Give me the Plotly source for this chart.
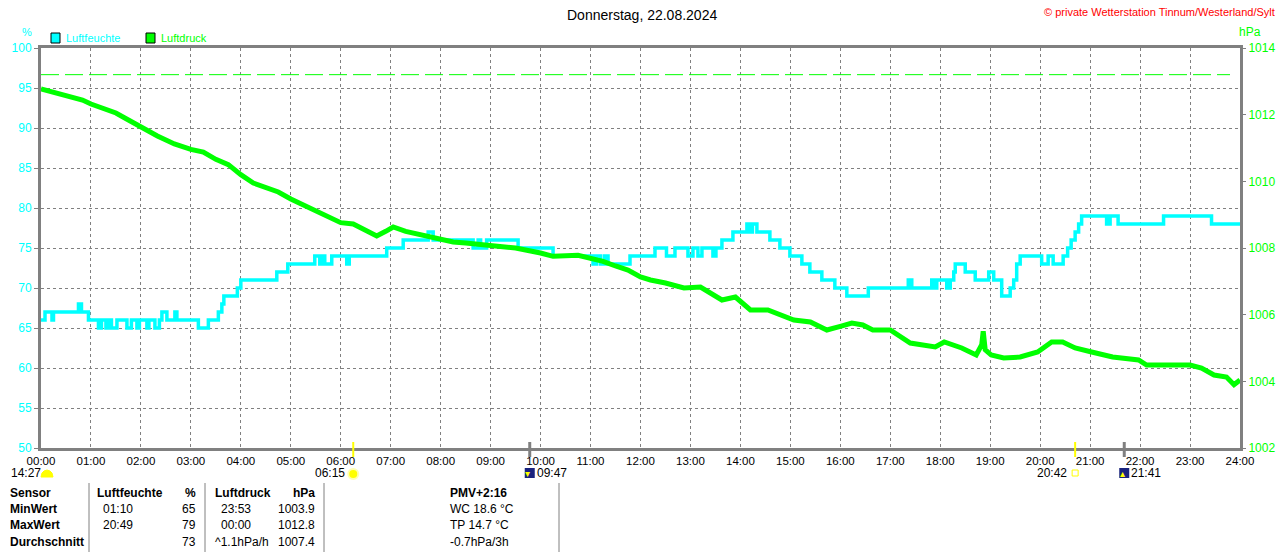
import plotly.graph_objects as go

# ---------------- data ----------------
hour_ticks = list(range(0, 25))
hour_labels = [f"{h:02d}:00" for h in hour_ticks]

hum_t = [0.00, 0.08, 0.22, 0.25, 0.75, 0.81, 0.95, 1.15, 1.21, 1.30, 1.35, 1.41, 1.52, 1.72,
         1.81, 1.92, 1.97, 2.12, 2.16, 2.28, 2.37, 2.42, 2.52, 2.68, 2.72, 3.15, 3.35, 3.55,
         3.62, 3.66, 3.93, 4.00, 4.72, 4.94, 5.48, 5.58, 5.62, 5.68, 5.82, 6.12, 6.17, 6.92,
         7.25, 7.75, 7.85, 8.65, 8.75, 8.80, 8.92, 9.55, 10.25, 11.05, 11.12, 11.20, 11.28,
         11.35, 11.79, 12.29, 12.52, 12.69, 12.95, 13.05, 13.15, 13.23, 13.45, 13.51, 13.63,
         13.85, 14.13, 14.20, 14.24, 14.33, 14.59, 14.79, 14.99, 15.23, 15.39, 15.63, 15.89,
         16.13, 16.56, 17.36, 17.43, 17.83, 17.90, 17.93, 18.13, 18.20, 18.27, 18.30, 18.50,
         18.70, 18.97, 19.07, 19.23, 19.40, 19.47, 19.53, 19.60, 20.03, 20.16, 20.26, 20.46,
         20.55, 20.62, 20.70, 20.77, 20.83, 21.33, 21.40, 21.56, 22.47, 23.43, 24.00]
hum_v = [66, 67, 66, 67, 68, 67, 66, 65, 66, 65, 66, 65, 66, 65,
         66, 65, 66, 65, 66, 65, 66, 67, 66, 67, 66, 65, 66, 67,
         68, 69, 70, 71, 72, 73, 74, 73, 74, 73, 74, 73, 74, 75,
         76, 77, 76, 75, 76, 75, 76, 75, 74, 73, 74, 73, 74,
         73, 74, 75, 74, 75, 74, 75, 74, 75, 74, 75, 76,
         77, 78, 77, 78, 77, 76, 75, 74, 73, 72, 71, 70,
         69, 70, 71, 70, 71, 70, 71, 70, 71, 72, 73, 72,
         71, 72, 71, 69, 70, 71, 73, 74, 73, 74, 73, 74,
         75, 76, 77, 78, 79, 78, 79, 78, 79, 78, 78]

pres_t = [0.0, 0.25, 0.5, 0.83, 1.0, 1.25, 1.5, 1.75, 2.0, 2.33, 2.67, 3.0, 3.25, 3.5, 3.75,
          4.0, 4.25, 4.5, 4.75, 5.0, 5.25, 5.5, 5.75, 6.0, 6.25, 6.5, 6.72, 6.9, 7.05, 7.3,
          7.6, 8.0, 8.25, 8.5, 9.0, 9.5, 10.0, 10.25, 10.75, 11.0, 11.25, 11.5, 11.75, 12.0,
          12.2, 12.5, 12.87, 13.2, 13.63, 13.9, 14.2, 14.55, 14.9, 15.07, 15.4, 15.73, 16.0,
          16.23, 16.45, 16.65, 17.0, 17.4, 17.9, 18.08, 18.43, 18.72, 18.83, 18.86, 18.9,
          19.02, 19.27, 19.6, 19.95, 20.23, 20.45, 20.7, 21.03, 21.45, 21.97, 22.13, 22.5,
          23.0, 23.23, 23.48, 23.73, 23.88, 24.0]
pres_v = [1012.77, 1012.68, 1012.56, 1012.44, 1012.32, 1012.2, 1012.05, 1011.84, 1011.63,
          1011.36, 1011.12, 1010.96, 1010.88, 1010.66, 1010.5, 1010.2, 1009.95, 1009.8,
          1009.68, 1009.47, 1009.3, 1009.14, 1008.95, 1008.76, 1008.72, 1008.55, 1008.36,
          1008.5, 1008.63, 1008.5, 1008.4, 1008.28, 1008.18, 1008.15, 1008.09, 1008.0,
          1007.85, 1007.75, 1007.78, 1007.7, 1007.6, 1007.46, 1007.34, 1007.13, 1007.04,
          1006.95, 1006.8, 1006.83, 1006.44, 1006.53, 1006.14, 1006.14, 1005.93, 1005.84,
          1005.78, 1005.54, 1005.65, 1005.75, 1005.69, 1005.54, 1005.54, 1005.15, 1005.03,
          1005.18, 1005.0, 1004.79, 1005.1, 1005.5, 1004.95, 1004.79, 1004.7, 1004.73,
          1004.88, 1005.18, 1005.18, 1005.0, 1004.88, 1004.73, 1004.64, 1004.49, 1004.49,
          1004.49, 1004.4, 1004.19, 1004.13, 1003.9, 1004.04]

ref_line_x = [0.0, 23.8]
ref_line_v = [1013.2, 1013.2]

# astronomical events (hours, label, kind)
event_t = [6.25, 9.783, 20.7, 21.683]
event_lbl = ["06:15", "09:47", "20:42", "21:41"]
event_kind = ["sunrise", "moon", "sunset", "moon"]

table_rows = [
    ["Sensor", "Luftfeuchte", "%", "Luftdruck", "hPa", "PMV+2:16"],
    ["MinWert", "01:10", "65", "23:53", "1003.9", "WC 18.6 °C"],
    ["MaxWert", "20:49", "79", "00:00", "1012.8", "TP 14.7 °C"],
    ["Durchschnitt", "", "73", "^1.1hPa/h", "1007.4", "-0.7hPa/3h"],
]

# ---------------- styles ----------------
CYAN = "#00ffff"
GREEN = "#00ff00"
GREY = "#808080"
YELLOW = "#ffff00"
FONT = "Liberation Sans, Arial, sans-serif"

W, H = 1280, 552
L, R, T, B = 41, 40, 48, 104
PW, PH = W - L - R, H - T - B


def px_x(px):
    return (px - L) / PW


def px_y(py):
    return (H - B - py) / PH


fig = go.Figure()

fig.add_trace(go.Scatter(x=ref_line_x, y=ref_line_v, yaxis="y2", mode="lines",
                         line=dict(color=GREEN, width=1, dash="18px,6px"),
                         hoverinfo="skip", showlegend=False))
fig.add_trace(go.Scatter(x=hum_t, y=hum_v, mode="lines", line_shape="hv",
                         line=dict(color=CYAN, width=3.5), name="Luftfeuchte",
                         showlegend=False))
fig.add_trace(go.Scatter(x=pres_t, y=pres_v, yaxis="y2", mode="lines",
                         line=dict(color=GREEN, width=5), name="Luftdruck",
                         showlegend=False))

shapes = []
annotations = []

# event markers on the time axis
for t, lbl, kind in zip(event_t, event_lbl, event_kind):
    is_sun = kind != "moon"
    shapes.append(dict(type="line", xref="x", yref="paper", x0=t, x1=t,
                       y0=px_y(442), y1=px_y(457),
                       line=dict(color=YELLOW if is_sun else GREY,
                                 width=2 if is_sun else 3)))
    epx = L + t / 24 * PW
    if is_sun:
        annotations.append(dict(xref="paper", yref="paper", x=px_x(epx - 6), y=px_y(473),
                                text=lbl, showarrow=False, xanchor="right", yanchor="middle",
                                font=dict(family=FONT, size=12, color="black")))
        if kind == "sunrise":
            shapes.append(dict(type="circle", xref="paper", yref="paper",
                               x0=px_x(epx - 6), x1=px_x(epx + 6), y0=px_y(480), y1=px_y(468),
                               line=dict(width=0), fillcolor="#ffffb0"))
            shapes.append(dict(type="circle", xref="paper", yref="paper",
                               x0=px_x(epx - 4), x1=px_x(epx + 4), y0=px_y(478), y1=px_y(470),
                               line=dict(width=0), fillcolor=YELLOW))
        else:
            shapes.append(dict(type="rect", xref="paper", yref="paper",
                               x0=px_x(epx - 3), x1=px_x(epx + 3), y0=px_y(476), y1=px_y(470),
                               line=dict(color=YELLOW, width=1), fillcolor="white"))
    else:
        shapes.append(dict(type="rect", xref="paper", yref="paper",
                           x0=px_x(epx - 5), x1=px_x(epx + 5), y0=px_y(478), y1=px_y(468),
                           line=dict(width=0), fillcolor="#1a237e"))
        annotations.append(dict(xref="paper", yref="paper", x=px_x(epx - 2), y=px_y(473),
                                text="▾" if lbl == "09:47" else "▴", showarrow=False,
                                xanchor="center", yanchor="middle",
                                font=dict(family="DejaVu Sans", size=10, color=YELLOW)))
        annotations.append(dict(xref="paper", yref="paper", x=px_x(epx + 5), y=px_y(473),
                                text=lbl, showarrow=False, xanchor="left", yanchor="middle",
                                font=dict(family=FONT, size=12, color="black")))

# "14:27" with half sun at left
annotations.append(dict(xref="paper", yref="paper", x=px_x(9), y=px_y(473), text="14:27",
                        showarrow=False, xanchor="left", yanchor="middle",
                        font=dict(family=FONT, size=12, color="black")))
shapes.append(dict(type="path", xref="paper", yref="paper",
                   path=(f"M {px_x(41)},{px_y(477)} L {px_x(42)},{px_y(473)} L {px_x(44)},{px_y(471)} "
                         f"L {px_x(47)},{px_y(470)} L {px_x(50)},{px_y(471)} L {px_x(52)},{px_y(473)} "
                         f"L {px_x(53)},{px_y(477)} Z"),
                   fillcolor=YELLOW, line=dict(color=YELLOW, width=1)))

# legend
for x0, col, txt in [(51, CYAN, "Luftfeuchte"), (146, GREEN, "Luftdruck")]:
    shapes.append(dict(type="rect", xref="paper", yref="paper",
                       x0=px_x(x0), x1=px_x(x0 + 9), y0=px_y(43), y1=px_y(33),
                       line=dict(color="black", width=1), fillcolor=col))
    annotations.append(dict(xref="paper", yref="paper", x=px_x(x0 + 13), y=px_y(38),
                            text=txt, showarrow=False, xanchor="left", yanchor="middle",
                            font=dict(family=FONT, size=11, color=col)))

# axis unit labels
annotations.append(dict(xref="paper", yref="paper", x=px_x(27), y=px_y(32), text="%",
                        showarrow=False, xanchor="center", yanchor="middle",
                        font=dict(family=FONT, size=11, color=CYAN)))
annotations.append(dict(xref="paper", yref="paper", x=px_x(1250), y=px_y(32), text="hPa",
                        showarrow=False, xanchor="center", yanchor="middle",
                        font=dict(family=FONT, size=12, color=GREEN)))

# title and copyright
annotations.append(dict(xref="paper", yref="paper", x=px_x(642), y=px_y(15),
                        text="Donnerstag, 22.08.2024", showarrow=False, xanchor="center",
                        yanchor="middle", font=dict(family=FONT, size=14, color="black")))
annotations.append(dict(xref="paper", yref="paper", x=px_x(1277), y=px_y(12),
                        text="© private Wetterstation Tinnum/Westerland/Sylt", showarrow=False,
                        xanchor="right", yanchor="middle",
                        font=dict(family=FONT, size=11, color="#ff0000")))

# table
row_y = [493, 509, 525, 542]
col_spec = [(8, "left"), (95, "left"), (198, "right"), (213, "left"), (317, "right"),
            (448, "left")]
for ri, row in enumerate(table_rows):
    for ci, cell in enumerate(row):
        if not cell:
            continue
        x, anchor = col_spec[ci]
        bold = ri == 0 or ci == 0
        if ri > 0 and ci in (1, 3) and ":" in cell and "hPa" not in cell:
            x += 6
        txt = f"<b>{cell}</b>" if bold else cell
        annotations.append(dict(xref="paper", yref="paper", x=px_x(x), y=px_y(row_y[ri]),
                                text=txt, showarrow=False, xanchor=anchor, yanchor="middle",
                                font=dict(family=FONT, size=12, color="black")))
for sx in [89, 205, 324, 559]:
    shapes.append(dict(type="line", xref="paper", yref="paper", x0=px_x(sx), x1=px_x(sx),
                       y0=px_y(483), y1=px_y(552), line=dict(color=GREY, width=1)))

fig.update_layout(
    width=W, height=H, autosize=False,
    margin=dict(l=L, r=R, t=T, b=B, pad=0, autoexpand=False),
    paper_bgcolor="white", plot_bgcolor="white",
    showlegend=False,
    font=dict(family=FONT, size=12, color="black"),
    xaxis=dict(range=[0, 24], tickvals=hour_ticks, ticktext=hour_labels, automargin=False,
               showgrid=True, gridcolor=GREY, griddash="3px,3px", gridwidth=1,
               showline=True, linecolor=GREY, linewidth=3, mirror=True,
               ticks="", zeroline=False, tickfont=dict(family=FONT, size=11.5, color="black")),
    yaxis=dict(range=[50, 100], dtick=5, tick0=50, automargin=False,
               showgrid=True, gridcolor=GREY, griddash="3px,3px", gridwidth=1,
               showline=True, linecolor=GREY, linewidth=3, mirror=True,
               ticks="outside", ticklen=4, tickcolor=GREY, zeroline=False,
               tickfont=dict(family=FONT, size=12, color=CYAN)),
    yaxis2=dict(range=[1002, 1014], dtick=2, tick0=1002, overlaying="y", side="right",
                automargin=False, showgrid=False, zeroline=False, showline=False,
                ticks="outside", ticklen=5, tickcolor=GREY,
                tickfont=dict(family=FONT, size=12, color=GREEN)),
    shapes=shapes,
    annotations=annotations,
)

fig.write_html(
    "out.html",
    config={"displayModeBar": False, "responsive": False},
    post_script="document.body.style.margin='0';document.body.style.overflow='hidden';",
)
